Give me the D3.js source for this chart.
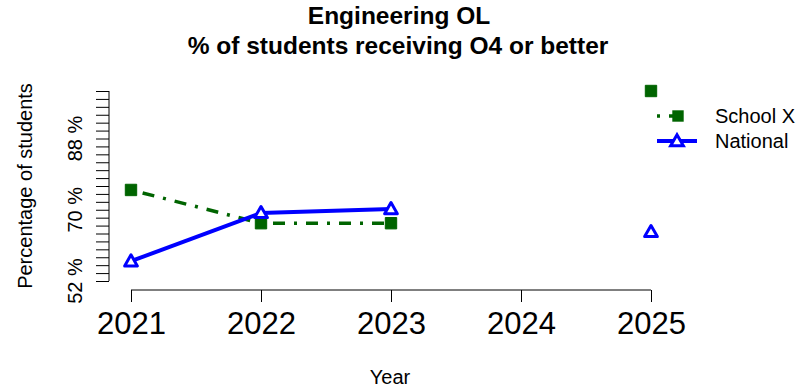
<!DOCTYPE html>
<html><head><meta charset="utf-8">
<script src="https://cdn.jsdelivr.net/npm/d3@7"></script>
<style>body{margin:0;background:#fff}svg{display:block}text{font-family:"Liberation Sans",Arial,sans-serif}</style>
</head><body><svg id="c" width="799" height="389"></svg>
<script>
const years = [2021, 2022, 2023, 2024, 2025];
const schoolYears = [2021, 2022, 2023, 2025];
const schoolValues = [75.0, 66.6, 66.6, 100];
const nationalYears = [2021, 2022, 2023, 2025];
const nationalValues = [57.0, 69.2, 70.2, 64.4];
const yTickValues = [52,54,56,58,60,62,64,66,68,70,72,74,76,78,80,82,84,86,88,90,92,94,96,98,100];
const yLabelValues = [52, 70, 88];
const seriesNames = ["School X", "National"];

const svg = d3.select("#c");
const x = d3.scaleLinear().domain([2021, 2025]).range([131, 651]);
const y = d3.scaleLinear().domain([52, 100]).range([281, 91]);
const green = "#006400", blue = "#0000ff";

// title
svg.append("text").attr("x", 399).attr("y", 24).attr("text-anchor", "middle")
  .attr("font-weight", "bold").attr("font-size", 24.5).text("Engineering OL");
svg.append("text").attr("x", 398).attr("y", 54).attr("text-anchor", "middle")
  .attr("font-weight", "bold").attr("font-size", 24.5).text("% of students receiving O4 or better");

// y axis
const yAxis = svg.append("g").attr("transform", "translate(109,0)")
  .call(d3.axisLeft(y).tickValues(yTickValues).tickSize(13).tickFormat(""));
yAxis.select(".domain").attr("d", `M0,${y(52)}V${y(100)}`);
yAxis.selectAll("line,path").attr("stroke", "#000").attr("stroke-width", 1);
svg.append("g").selectAll("text").data(yLabelValues).join("text")
  .attr("transform", d => `translate(82,${y(d)}) rotate(-90)`)
  .attr("text-anchor", "middle").attr("font-size", 20).text(d => d + " %");
svg.append("text").attr("transform", "translate(32,186) rotate(-90)")
  .attr("text-anchor", "middle").attr("font-size", 20).text("Percentage of students");

// x axis
const xAxis = svg.append("g").attr("transform", "translate(0,290)")
  .call(d3.axisBottom(x).tickValues(years).tickSize(12).tickSizeOuter(0).tickFormat(d3.format("d")).tickPadding(10));
xAxis.selectAll("line,path").attr("stroke", "#000");
xAxis.select(".domain").attr("d", `M${x(2021)},0H${x(2025)}`);
xAxis.selectAll("text").attr("font-size", 31).attr("fill", "#000").attr("font-family", "Liberation Sans, Arial, sans-serif");
svg.append("text").attr("x", 390).attr("y", 384).attr("text-anchor", "middle").attr("font-size", 20).text("Year");

// series
const sData = schoolYears.map((d, i) => ({x: d, y: schoolValues[i]}));
const nData = nationalYears.map((d, i) => ({x: d, y: nationalValues[i]}));
const consecutive = arr => arr.slice(0, -1).map((d, i) => [d, arr[i + 1]]).filter(p => p[1].x - p[0].x === 1);
const line = d3.line().x(d => x(d.x)).y(d => y(d.y));

svg.append("g").selectAll("path").data(consecutive(sData)).join("path")
  .attr("d", line).attr("fill", "none").attr("stroke", green).attr("stroke-width", 3.5)
  .attr("stroke-dasharray", "3 9 12 9");
svg.append("g").selectAll("path").data(consecutive(nData)).join("path")
  .attr("d", line).attr("fill", "none").attr("stroke", blue).attr("stroke-width", 4);

const sq = d3.symbol().type(d3.symbolSquare).size(130);
const tri = d3.symbol().type(d3.symbolTriangle).size(70);
svg.append("g").selectAll("path").data(sData).join("path")
  .attr("transform", d => `translate(${x(d.x)},${y(d.y)})`).attr("d", sq)
  .attr("fill", green).attr("stroke", green).attr("stroke-width", 1);
svg.append("g").selectAll("path").data(nData).join("path")
  .attr("transform", d => `translate(${x(d.x)},${y(d.y) + 1})`).attr("d", tri)
  .attr("fill", "#fff").attr("stroke", blue).attr("stroke-width", 3).attr("stroke-linejoin", "round");

// legend
const lg = svg.append("g");
lg.append("line").attr("x1", 657).attr("x2", 688).attr("y1", 116).attr("y2", 116)
  .attr("stroke", green).attr("stroke-width", 3.5).attr("stroke-dasharray", "3 9 12 9");
lg.append("path").attr("transform", "translate(678,116)").attr("d", sq).attr("fill", green);
lg.append("text").attr("x", 715).attr("y", 123).attr("font-size", 20).text(seriesNames[0]);
lg.append("line").attr("x1", 657).attr("x2", 697).attr("y1", 141).attr("y2", 141)
  .attr("stroke", blue).attr("stroke-width", 4);
lg.append("path").attr("transform", "translate(677,142)").attr("d", tri)
  .attr("fill", "#fff").attr("stroke", blue).attr("stroke-width", 3);
lg.append("text").attr("x", 715).attr("y", 148).attr("font-size", 20).text(seriesNames[1]);
</script></body></html>
